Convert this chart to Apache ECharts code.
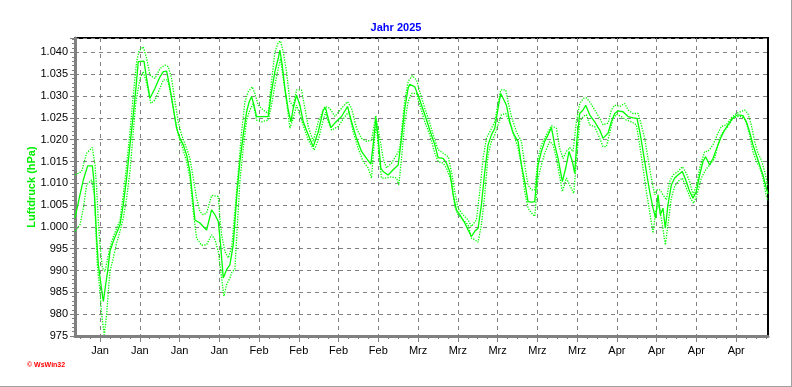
<!DOCTYPE html>
<html>
<head>
<meta charset="utf-8">
<script src="https://cdn.jsdelivr.net/npm/echarts@6/dist/echarts.min.js"></script>
<style>
html,body{margin:0;padding:0;background:#fff;}
#chart{width:792px;height:387px;}
</style>
</head>
<body>
<div id="chart"></div>
<script>
// x values are days since start of year (approx.), y values in hPa
const xTickDays = [4.4, 11.4, 18.4, 25.4, 32.4, 39.4, 46.4, 53.4, 60.4, 67.4, 74.4, 81.4, 88.4, 95.4, 102.4, 109.4, 116.4];
const xTickLabels = ['Jan','Jan','Jan','Jan','Feb','Feb','Feb','Feb','Mrz','Mrz','Mrz','Mrz','Mrz','Apr','Apr','Apr','Apr'];

const meanDay = [0.0,0.88,1.47,2.23,3.05,3.28,3.52,3.81,4.11,4.57,4.99,5.40,5.75,6.16,6.74,7.33,7.92,8.50,9.09,9.68,10.26,10.73,11.14,12.14,12.61,13.20,14.08,14.96,15.54,16.13,16.72,17.30,17.89,18.48,19.06,19.65,20.23,20.65,21.11,21.99,23.17,24.05,24.63,25.22,25.63,26.10,26.69,27.27,27.86,28.45,29.03,29.62,30.21,30.67,31.09,31.50,31.96,32.84,34.02,34.60,35.19,35.78,36.07,36.48,36.95,37.54,38.01,38.42,39.00,39.59,40.18,41.06,41.94,42.82,43.70,44.11,44.57,45.04,45.75,46.92,47.98,48.68,49.56,50.44,51.32,52.08,52.49,52.96,53.37,53.84,54.25,55.13,56.01,56.89,57.48,58.06,58.65,58.94,59.82,
60.70,61.58,62.46,63.34,63.93,64.81,65.39,65.98,66.57,67.15,67.74,68.62,69.20,69.79,70.38,70.96,71.55,72.14,72.72,73.31,73.90,74.48,74.95,75.36,75.95,76.54,77.12,78.00,78.59,79.17,79.76,80.35,80.93,81.52,82.11,82.69,83.28,83.87,84.45,85.04,85.80,86.39,86.98,87.56,87.97,88.38,88.85,89.44,89.91,90.61,91.49,92.37,92.96,93.84,94.42,95.01,95.60,96.48,97.36,98.24,98.94,99.53,100.11,100.58,101.17,101.76,102.22,102.63,103.05,103.51,103.92,104.39,104.98,105.57,106.15,106.92,107.62,108.21,108.79,109.38,109.97,110.55,111.02,111.73,112.31,113.19,113.78,114.36,114.95,115.54,116.12,116.71,117.59,118.18,118.76,119.35,119.94,120.52,121.11,121.70,122.0];
const meanHpa = [1002.0,1007.4,1010.8,1014.0,1014.0,1011.2,1005.1,997.4,991.3,986.8,982.9,986.8,989.8,994.4,996.7,998.6,1000.5,1005.1,1011.2,1018.8,1025.7,1031.8,1037.9,1038.0,1034.0,1029.5,1031.8,1034.4,1035.6,1035.7,1031.8,1027.2,1022.6,1020.3,1018.8,1016.5,1012.7,1007.4,1001.6,1000.9,999.3,1003.9,1002.8,1001.3,995.9,988.3,990.2,991.3,995.9,1006.6,1015.0,1021.1,1026.4,1028.7,1029.9,1027.9,1025.3,1025.3,1025.3,1031.0,1035.6,1038.6,1040.5,1037.1,1031.8,1026.8,1024.1,1027.2,1030.2,1027.9,1024.1,1021.1,1018.4,1021.8,1026.8,1027.3,1024.9,1022.8,1023.8,1025.3,1027.6,1024.1,1020.3,1017.3,1015.7,1014.4,1018.8,1024.9,1020.3,1013.5,1012.7,1011.9,1013.1,1014.2,1020.3,1027.2,1031.8,1032.7,1032.1,
1029.1,1025.7,1022.2,1018.8,1015.9,1015.7,1014.6,1012.7,1007.4,1003.9,1002.8,1000.9,999.3,997.8,999.0,999.7,1005.1,1012.7,1018.8,1021.1,1022.6,1027.2,1030.6,1029.5,1027.9,1024.1,1021.5,1019.6,1014.2,1010.4,1005.8,1005.7,1005.8,1014.2,1017.3,1019.6,1021.1,1022.8,1018.8,1015.7,1010.4,1013.5,1017.3,1015.0,1012.3,1020.3,1026.0,1026.8,1027.9,1025.7,1024.1,1022.2,1020.3,1021.5,1024.1,1026.0,1026.6,1026.4,1025.3,1025.0,1024.9,1021.1,1016.5,1012.7,1008.1,1004.3,1002.0,1007.4,1002.8,1004.3,999.7,1005.1,1009.6,1011.2,1011.9,1012.7,1010.4,1008.1,1006.6,1008.1,1011.9,1015.0,1016.1,1014.2,1015.7,1018.8,1020.7,1022.2,1023.4,1024.5,1025.3,1025.7,1025.5,1024.1,1021.8,1018.8,1016.5,1014.2,1011.9,1008.9,1007.6];

const maxDay = [0.00,1.17,2.05,3.05,3.52,3.81,4.11,4.40,4.81,5.28,5.87,6.45,7.33,7.92,8.50,9.09,9.68,10.26,10.85,11.26,12.02,12.61,13.20,14.08,14.96,15.84,16.42,17.01,17.60,18.18,18.77,19.65,20.23,20.82,21.41,21.99,22.58,23.17,24.05,25.22,25.51,25.81,26.39,26.98,27.57,28.15,28.74,29.33,29.91,30.50,31.20,31.67,32.26,33.14,34.02,34.60,35.19,35.78,36.19,36.66,37.24,37.83,38.42,39.00,39.88,40.47,41.06,41.94,42.82,43.99,44.87,45.75,46.92,47.98,48.68,49.56,50.44,51.32,52.20,52.96,53.67,54.25,54.84,55.72,56.60,57.18,58.06,58.65,59.35,60.12,
60.70,61.58,62.46,63.34,63.93,64.81,65.69,66.27,66.86,67.44,68.32,69.20,69.79,70.67,71.26,71.84,72.43,73.02,73.90,74.48,74.95,75.83,76.24,76.83,77.71,78.59,79.17,79.76,80.35,80.93,81.52,82.11,82.99,83.87,84.75,85.33,85.92,86.51,87.09,87.68,88.27,88.85,89.56,90.03,90.61,91.49,92.37,92.96,93.84,94.42,95.01,95.89,96.77,97.36,98.24,99.12,99.70,100.29,100.88,101.46,102.05,102.46,102.93,103.51,104.10,104.69,105.27,106.15,106.92,107.62,108.21,108.79,109.38,109.97,110.85,111.43,112.31,113.19,113.78,114.66,115.54,116.42,117.88,118.47,119.06,119.64,120.23,120.82,121.40,122.0];
const maxHpa = [1011.9,1012.7,1016.9,1018.2,1014.2,1008.9,1001.3,995.9,990.6,989.8,993.6,996.7,999.7,1001.6,1007.4,1014.2,1021.8,1030.2,1037.9,1040.3,1041.3,1038.6,1034.8,1034.0,1036.3,1037.1,1036.7,1034.0,1028.7,1024.1,1021.1,1018.0,1015.7,1011.2,1006.6,1003.5,1002.8,1003.2,1007.2,1007.0,1002.0,998.2,994.4,992.9,995.2,1003.5,1012.7,1021.8,1028.7,1031.0,1032.1,1030.6,1027.9,1026.8,1026.0,1033.3,1040.1,1042.3,1042.6,1040.1,1035.6,1028.7,1027.6,1031.4,1031.4,1027.2,1023.0,1019.6,1024.1,1027.6,1027.2,1025.3,1027.2,1028.7,1027.2,1022.6,1020.3,1019.6,1019.9,1025.5,1020.3,1015.7,1013.5,1014.6,1016.5,1018.0,1029.1,1033.3,1034.7,1033.7,
1031.0,1027.2,1023.8,1019.9,1017.7,1016.9,1016.1,1012.7,1008.1,1004.3,1002.8,1001.6,1000.1,1001.6,1008.1,1015.7,1020.3,1021.8,1024.1,1028.3,1031.4,1031.4,1028.7,1025.3,1021.8,1019.6,1014.2,1009.6,1008.5,1008.5,1015.7,1018.8,1021.1,1023.2,1022.6,1018.0,1015.7,1017.3,1018.2,1017.3,1024.1,1028.3,1029.5,1029.6,1028.7,1026.8,1024.9,1023.4,1023.8,1026.8,1027.9,1027.6,1028.3,1026.8,1026.0,1026.0,1023.4,1020.3,1015.7,1011.2,1007.4,1008.5,1008.5,1007.4,1006.2,1010.4,1011.9,1012.7,1013.8,1012.3,1010.4,1007.4,1009.3,1013.5,1017.3,1017.3,1018.8,1021.5,1023.0,1023.4,1025.0,1026.0,1026.8,1026.0,1023.4,1019.6,1016.9,1015.4,1012.7,1009.3];

const minDay = [0.00,0.88,1.47,2.05,2.93,3.40,3.64,3.93,4.40,4.69,5.16,5.57,5.87,6.16,6.74,7.33,7.92,8.50,9.09,9.68,10.26,10.73,11.44,12.02,12.61,13.37,14.08,14.96,15.54,16.30,17.01,17.60,18.18,18.77,19.65,20.23,20.82,21.41,22.29,23.17,24.05,24.63,25.22,25.81,26.22,26.69,27.27,27.68,28.15,28.45,29.03,29.62,30.21,30.79,31.38,31.96,32.84,34.02,34.60,35.19,35.78,36.19,36.66,37.24,37.83,38.42,39.00,39.59,40.35,41.06,42.11,42.82,43.70,44.11,44.57,45.16,46.33,47.51,48.21,48.97,49.85,50.73,51.61,52.20,52.79,53.08,53.49,53.96,54.84,55.72,56.60,57.01,57.48,58.06,58.65,59.24,60.12,
60.70,61.58,62.46,63.34,63.93,64.81,65.39,66.27,66.86,67.44,68.32,69.20,69.79,70.38,70.96,71.55,72.14,72.72,73.31,73.90,74.48,75.07,75.83,76.24,77.12,78.00,78.59,79.17,79.76,80.35,80.93,81.52,82.11,82.69,83.57,84.16,84.75,85.33,85.80,86.51,87.09,87.80,88.27,88.85,89.44,90.03,90.61,91.49,92.37,92.96,93.54,94.13,94.72,95.30,96.18,97.06,97.94,98.82,99.41,100.00,100.58,101.17,101.76,102.22,102.81,103.40,103.92,104.39,104.98,105.57,106.15,106.92,107.62,108.32,108.91,109.50,110.26,111.02,111.73,112.61,113.49,114.07,114.95,115.83,116.71,117.30,118.06,118.76,119.35,119.94,120.52,121.11,121.70,122.0];
const minHpa = [999.0,1000.5,1004.3,1009.6,1010.8,1007.4,1000.5,991.3,985.2,979.9,975.3,979.9,985.2,989.8,992.9,996.3,999.0,1002.0,1006.6,1012.7,1021.8,1028.7,1034.0,1035.6,1032.9,1028.3,1029.1,1031.8,1033.7,1033.7,1029.5,1024.9,1021.1,1018.8,1015.0,1011.2,1003.5,997.4,995.8,995.9,998.2,997.1,994.4,988.3,984.1,986.8,988.3,989.8,990.2,997.4,1010.4,1018.0,1024.5,1026.8,1028.3,1024.5,1024.1,1024.5,1027.9,1032.5,1036.3,1038.6,1034.0,1028.7,1022.6,1024.9,1027.9,1025.7,1022.6,1019.9,1017.6,1019.9,1024.5,1026.3,1024.1,1022.2,1023.0,1025.3,1026.4,1021.8,1018.0,1015.0,1013.5,1011.2,1021.1,1023.4,1016.5,1011.2,1011.2,1011.5,1011.2,1009.6,1015.7,1024.1,1028.7,1030.6,1030.6,
1027.9,1024.1,1021.1,1016.9,1015.0,1014.6,1013.5,1010.4,1004.7,1002.8,1001.6,1000.5,997.4,997.1,996.5,1000.5,1007.4,1016.5,1019.6,1021.1,1023.4,1025.7,1026.0,1024.9,1021.8,1018.0,1014.2,1008.1,1004.3,1003.2,1002.4,1011.2,1014.2,1016.9,1019.6,1018.8,1015.7,1011.5,1008.1,1011.2,1009.6,1007.7,1015.0,1024.1,1025.3,1025.7,1023.4,1023.0,1020.3,1018.4,1018.4,1021.5,1024.9,1025.8,1025.3,1024.5,1024.1,1023.4,1018.8,1013.5,1008.1,1003.5,998.6,1003.5,1005.1,1000.5,995.9,1000.5,1006.6,1009.3,1010.4,1011.2,1008.9,1006.6,1005.4,1007.4,1011.2,1013.1,1014.2,1015.7,1020.3,1021.8,1023.0,1024.9,1025.3,1025.3,1024.5,1021.1,1017.3,1015.0,1013.8,1011.2,1007.0,1006.0];

const FONT = 'Liberation Sans, Arial, sans-serif';
const zip = (xs, ys) => xs.map((x, i) => [x, ys[i]]);

const minorDays = [];
for (let d = xTickDays[0] - 7; d <= 122.001; d += 1.75) {
  if (d > 0.2 && !xTickDays.some(t => Math.abs(t - d) < 0.01)) minorDays.push(Math.round(d * 100) / 100);
}

function yFmt(v) {
  if (v >= 1000) {
    const r = Math.round(v - 1000);
    return '1.' + String(r).padStart(3, '0');
  }
  return String(Math.round(v));
}
function xFmt(v) {
  let best = 0, bd = 1e9;
  xTickDays.forEach((t, i) => { const d = Math.abs(t - v); if (d < bd) { bd = d; best = i; } });
  return xTickLabels[best];
}

const chart = echarts.init(document.getElementById('chart'), null, { renderer: 'canvas' });
chart.setOption({
  animation: false,
  backgroundColor: '#ffffff',
  title: {
    text: 'Jahr 2025', left: 'center', top: 17,
    textStyle: { color: '#0000ff', fontSize: 11, fontWeight: 'bold', fontFamily: FONT }
  },
  grid: { left: 75, right: 24, top: 38, bottom: 51, show: true, borderColor: '#000000', borderWidth: 2, backgroundColor: 'transparent' },
  xAxis: [{
    type: 'value', min: 0, max: 122,
    axisLine: { show: true, onZero: false, lineStyle: { color: '#808080', width: 3 } },
    axisTick: { show: true, customValues: xTickDays, length: 6, lineStyle: { color: '#808080', width: 1 } },
    axisLabel: { customValues: xTickDays, formatter: xFmt, margin: 9, color: '#000', fontSize: 11, fontFamily: FONT },
    splitLine: { show: true, lineStyle: { color: '#808080', width: 1, type: [4, 4] } }
  }, {
    type: 'value', min: 0, max: 122, position: 'bottom',
    axisLine: { show: false },
    axisTick: { show: true, customValues: minorDays, length: 3, lineStyle: { color: '#808080', width: 1 } },
    axisLabel: { show: false },
    splitLine: { show: false }
  }],
  yAxis: {
    type: 'value', min: 975, max: 1043.3, interval: 5,
    name: 'Luftdruck (hPa)', nameLocation: 'middle', nameGap: 38, nameRotate: 90, nameMoveOverlap: false,
    nameTextStyle: { color: '#00ee00', fontSize: 11, fontWeight: 'bold', fontFamily: FONT },
    axisLine: { show: true, onZero: false, lineStyle: { color: '#808080', width: 3 } },
    axisTick: { show: true, length: 5, lineStyle: { color: '#808080', width: 1 } },
    minorTick: { show: true, splitNumber: 5, length: 3, lineStyle: { color: '#808080', width: 1 } },
    axisLabel: { formatter: yFmt, margin: 7, color: '#000', fontSize: 11, fontFamily: FONT, showMaxLabel: false },
    splitLine: { show: true, lineStyle: { color: '#808080', width: 1, type: [4, 4] } }
  },
  graphic: [
    { type: 'text', left: 27, top: 362, style: { text: '\u00a9 WsWin32', fill: '#ff0000', font: 'bold 7px ' + FONT } },
    { type: 'line', shape: { x1: 0, y1: 386.5, x2: 792, y2: 386.5 }, style: { stroke: '#a0a0a0', lineWidth: 1 } },
    { type: 'line', shape: { x1: 791.5, y1: 0, x2: 791.5, y2: 387 }, style: { stroke: '#a0a0a0', lineWidth: 1 } }
  ],
  series: [
    { name: 'Max', type: 'line', data: zip(maxDay, maxHpa), showSymbol: false, symbol: 'none', clip: true,
      lineStyle: { color: '#00ff00', width: 1.3, type: [1.3, 1.3] } },
    { name: 'Min', type: 'line', data: zip(minDay, minHpa), showSymbol: false, symbol: 'none', clip: true,
      lineStyle: { color: '#00ff00', width: 1.3, type: [1.3, 1.3] } },
    { name: 'Mittel', type: 'line', data: zip(meanDay, meanHpa), showSymbol: false, symbol: 'none', clip: true,
      lineStyle: { color: '#00ff00', width: 1.3 } }
  ]
});
</script>
</body>
</html>
